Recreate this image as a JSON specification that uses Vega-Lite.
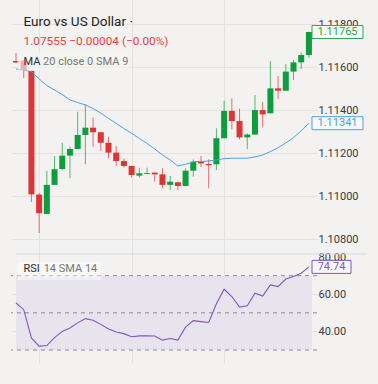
{
  "$schema": "https://vega.github.io/schema/vega-lite/v6.json",
  "width": 378,
  "height": 384,
  "autosize": {"type": "fit", "contains": "padding"},
  "padding": {"left": 10, "top": 0, "right": 10, "bottom": 21},
  "background": "#f3f2f0",
  "config": {
    "view": {"stroke": null},
    "font": "Roboto",
    "axis": {"labelFont": "Roboto", "labelFontSize": 11, "labelColor": "#3a3a3a", "ticks": false, "tickSize": 0, "domain": false, "gridColor": "#e3e2e0", "gridWidth": 1, "title": null}
  },
  "datasets": {
    "candles": [
      {"i": 0, "o": 1.11630, "h": 1.11667, "l": 1.11621, "c": 1.11623, "ma": 1.11593, "rsi": 55.3},
      {"i": 1, "o": 1.11632, "h": 1.11635, "l": 1.11551, "c": 1.11588, "ma": 1.11588, "rsi": 51.7},
      {"i": 2, "o": 1.11584, "h": 1.11586, "l": 1.10974, "c": 1.11010, "ma": 1.11581, "rsi": 36.5},
      {"i": 3, "o": 1.11009, "h": 1.11016, "l": 1.10830, "c": 1.10922, "ma": 1.11547, "rsi": 32.1},
      {"i": 4, "o": 1.10919, "h": 1.11120, "l": 1.10919, "c": 1.11054, "ma": 1.11516, "rsi": 32.4},
      {"i": 5, "o": 1.11054, "h": 1.11188, "l": 1.11054, "c": 1.11127, "ma": 1.11495, "rsi": 36.7},
      {"i": 6, "o": 1.11128, "h": 1.11250, "l": 1.11123, "c": 1.11190, "ma": 1.11474, "rsi": 40.0},
      {"i": 7, "o": 1.11190, "h": 1.11232, "l": 1.11085, "c": 1.11221, "ma": 1.11449, "rsi": 41.8},
      {"i": 8, "o": 1.11221, "h": 1.11394, "l": 1.11221, "c": 1.11286, "ma": 1.11437, "rsi": 44.6},
      {"i": 9, "o": 1.11286, "h": 1.11429, "l": 1.11150, "c": 1.11320, "ma": 1.11426, "rsi": 46.9},
      {"i": 10, "o": 1.11320, "h": 1.11367, "l": 1.11232, "c": 1.11299, "ma": 1.11409, "rsi": 46.0},
      {"i": 11, "o": 1.11299, "h": 1.11300, "l": 1.11212, "c": 1.11250, "ma": 1.11388, "rsi": 43.8},
      {"i": 12, "o": 1.11250, "h": 1.11278, "l": 1.11178, "c": 1.11204, "ma": 1.11363, "rsi": 41.3},
      {"i": 13, "o": 1.11204, "h": 1.11235, "l": 1.11142, "c": 1.11165, "ma": 1.11340, "rsi": 39.7},
      {"i": 14, "o": 1.11165, "h": 1.11176, "l": 1.11134, "c": 1.11142, "ma": 1.11316, "rsi": 38.8},
      {"i": 15, "o": 1.11142, "h": 1.11144, "l": 1.11088, "c": 1.11100, "ma": 1.11294, "rsi": 37.1},
      {"i": 16, "o": 1.11097, "h": 1.11134, "l": 1.11088, "c": 1.11108, "ma": 1.11270, "rsi": 37.6},
      {"i": 17, "o": 1.11105, "h": 1.11134, "l": 1.11104, "c": 1.11109, "ma": 1.11247, "rsi": 37.7},
      {"i": 18, "o": 1.11111, "h": 1.11112, "l": 1.11069, "c": 1.11103, "ma": 1.11221, "rsi": 37.5},
      {"i": 19, "o": 1.11103, "h": 1.11131, "l": 1.11038, "c": 1.11054, "ma": 1.11193, "rsi": 35.3},
      {"i": 20, "o": 1.11054, "h": 1.11095, "l": 1.11030, "c": 1.11069, "ma": 1.11170, "rsi": 36.2},
      {"i": 21, "o": 1.11066, "h": 1.11069, "l": 1.11030, "c": 1.11049, "ma": 1.11142, "rsi": 35.3},
      {"i": 22, "o": 1.11049, "h": 1.11131, "l": 1.11049, "c": 1.11120, "ma": 1.11150, "rsi": 42.3},
      {"i": 23, "o": 1.11120, "h": 1.11173, "l": 1.11092, "c": 1.11162, "ma": 1.11161, "rsi": 45.8},
      {"i": 24, "o": 1.11162, "h": 1.11188, "l": 1.11137, "c": 1.11154, "ma": 1.11163, "rsi": 45.3},
      {"i": 25, "o": 1.11151, "h": 1.11173, "l": 1.11038, "c": 1.11145, "ma": 1.11165, "rsi": 44.8},
      {"i": 26, "o": 1.11150, "h": 1.11317, "l": 1.11123, "c": 1.11271, "ma": 1.11170, "rsi": 54.9},
      {"i": 27, "o": 1.11271, "h": 1.11446, "l": 1.11271, "c": 1.11398, "ma": 1.11176, "rsi": 62.7},
      {"i": 28, "o": 1.11398, "h": 1.11457, "l": 1.11313, "c": 1.11351, "ma": 1.11178, "rsi": 58.8},
      {"i": 29, "o": 1.11351, "h": 1.11408, "l": 1.11266, "c": 1.11275, "ma": 1.11178, "rsi": 53.1},
      {"i": 30, "o": 1.11275, "h": 1.11294, "l": 1.11220, "c": 1.11288, "ma": 1.11178, "rsi": 53.8},
      {"i": 31, "o": 1.11288, "h": 1.11472, "l": 1.11288, "c": 1.11402, "ma": 1.11184, "rsi": 60.6},
      {"i": 32, "o": 1.11402, "h": 1.11440, "l": 1.11322, "c": 1.11382, "ma": 1.11193, "rsi": 59.0},
      {"i": 33, "o": 1.11387, "h": 1.11630, "l": 1.11387, "c": 1.11503, "ma": 1.11209, "rsi": 65.0},
      {"i": 34, "o": 1.11503, "h": 1.11561, "l": 1.11452, "c": 1.11492, "ma": 1.11227, "rsi": 64.1},
      {"i": 35, "o": 1.11492, "h": 1.11616, "l": 1.11492, "c": 1.11581, "ma": 1.11249, "rsi": 68.2},
      {"i": 36, "o": 1.11581, "h": 1.11635, "l": 1.11542, "c": 1.11624, "ma": 1.11274, "rsi": 69.6},
      {"i": 37, "o": 1.11624, "h": 1.11669, "l": 1.11592, "c": 1.11658, "ma": 1.11305, "rsi": 71.3},
      {"i": 38, "o": 1.11658, "h": 1.11767, "l": 1.11646, "c": 1.11765, "ma": 1.11341, "rsi": 74.74}
    ],
    "tags": [
      {"kind": "close", "value": 1.11765},
      {"kind": "ma", "value": 1.11341}
    ],
    "rsitag": [{"value": 74.74}],
    "levels": [{"v": 70}, {"v": 50}, {"v": 30}],
    "one": [{"k": 1}]
  },
  "layer": [
    {
      "layer": [
        {
          "data": {"name": "candles"},
          "mark": {"type": "rule", "strokeWidth": 1, "opacity": 0.7, "clip": true},
          "encoding": {
            "x": {"field": "i", "type": "quantitative", "scale": {"domain": [0, 38.4], "nice": false, "zero": false},
                  "axis": {"values": [3, 15, 27], "labels": false, "grid": true, "orient": "bottom"}},
            "y": {"field": "l", "type": "quantitative",
                  "scale": {"domain": [1.1022558, 1.1191395], "nice": false, "zero": false},
                  "axis": {"orient": "right", "values": [1.108, 1.110, 1.112, 1.114, 1.116, 1.118], "format": ".5f", "labelPadding": 1, "grid": true}},
            "y2": {"field": "h"},
            "color": {"condition": {"test": "datum.c >= datum.o", "value": "#0e9d3e"}, "value": "#dd3536"}
          }
        },
        {
          "data": {"name": "candles"},
          "mark": {"type": "bar", "width": 6, "clip": true},
          "encoding": {
            "x": {"field": "i", "type": "quantitative"},
            "y": {"field": "o", "type": "quantitative"},
            "y2": {"field": "c"},
            "color": {"condition": {"test": "datum.c >= datum.o", "value": "#0e9d3e"}, "value": "#dd3536"}
          }
        },
        {
          "data": {"name": "candles"},
          "mark": {"type": "line", "color": "#4ba1ee", "strokeWidth": 1},
          "encoding": {"x": {"field": "i", "type": "quantitative"}, "y": {"field": "ma", "type": "quantitative"}}
        },
        {
          "data": {"name": "one"},
          "mark": {"type": "rect", "color": "#f3f2f0", "opacity": 0.65},
          "encoding": {
            "x": {"datum": 0.2, "type": "quantitative"}, "x2": {"datum": 14.7},
            "y": {"datum": 1.116721, "type": "quantitative"}, "y2": {"datum": 1.115860}
          }
        },
        {
          "data": {"name": "one"},
          "mark": {"type": "text", "align": "left", "baseline": "middle", "fontSize": 13.5, "color": "#1e1e1e", "text": "Euro vs US Dollar ·"},
          "encoding": {"x": {"datum": 0.976, "type": "quantitative"}, "y": {"datum": 1.118116, "type": "quantitative"}}
        },
        {
          "data": {"name": "one"},
          "mark": {"type": "text", "align": "left", "baseline": "middle", "fontSize": 11.8, "color": "#e0453f", "text": "1.07555  −0.00004 (−0.00%)"},
          "encoding": {"x": {"datum": 0.976, "type": "quantitative"}, "y": {"datum": 1.117233, "type": "quantitative"}}
        },
        {
          "data": {"name": "one"},
          "mark": {"type": "text", "align": "left", "baseline": "middle", "fontSize": 11, "color": "#2e2e2e", "text": "MA"},
          "encoding": {"x": {"datum": 0.976, "type": "quantitative"}, "y": {"datum": 1.116279, "type": "quantitative"}}
        },
        {
          "data": {"name": "one"},
          "mark": {"type": "text", "align": "left", "baseline": "middle", "fontSize": 11, "color": "#767676", "text": "20 close 0 SMA 9"},
          "encoding": {"x": {"datum": 3.51, "type": "quantitative"}, "y": {"datum": 1.116279, "type": "quantitative"}}
        },
        {
          "data": {"name": "tags"},
          "mark": {"type": "rect", "fill": "#f8f8f7", "strokeWidth": 1, "clip": false, "yOffset": -6.5, "y2Offset": 6.5, "x2Offset": 51},
          "encoding": {
            "x": {"datum": 38.4, "type": "quantitative"}, "x2": {"datum": 38.4},
            "y": {"field": "value", "type": "quantitative"}, "y2": {"field": "value"},
            "stroke": {"field": "kind", "type": "nominal", "scale": {"domain": ["close", "ma"], "range": ["#2ea653", "#4ba1ee"]}, "legend": null}
          }
        },
        {
          "data": {"name": "tags"},
          "mark": {"type": "text", "align": "center", "baseline": "middle", "fontSize": 11, "dx": 25.5, "clip": false},
          "encoding": {
            "x": {"datum": 38.4, "type": "quantitative"},
            "y": {"field": "value", "type": "quantitative"},
            "text": {"field": "value", "type": "quantitative", "format": ".5f"},
            "color": {"field": "kind", "type": "nominal", "scale": {"domain": ["close", "ma"], "range": ["#2ea653", "#4ba1ee"]}, "legend": null}
          }
        }
      ]
    },
    {
      "layer": [
        {
          "data": {"name": "one"},
          "mark": {"type": "rect", "color": "#e8e4ee"},
          "encoding": {
            "x": {"datum": 0, "type": "quantitative"}, "x2": {"datum": 38.4},
            "y": {"datum": 30, "type": "quantitative",
                  "scale": {"domain": [23.0, 218.43], "nice": false, "zero": false},
                  "axis": {"orient": "right", "values": [40, 60, 80], "format": ".2f", "labelPadding": 1, "grid": true,
                           "gridOpacity": {"condition": {"test": "datum.value === 80", "value": 0}, "value": 1}}},
            "y2": {"datum": 70}
          }
        },
        {
          "data": {"name": "levels"},
          "mark": {"type": "rule", "color": "#8a8890", "strokeDash": [4, 4], "strokeWidth": 1},
          "encoding": {"y": {"field": "v", "type": "quantitative"}}
        },
        {
          "data": {"name": "candles"},
          "mark": {"type": "line", "color": "#7e57c2", "strokeWidth": 1.1},
          "encoding": {"x": {"field": "i", "type": "quantitative"}, "y": {"field": "rsi", "type": "quantitative"}}
        },
        {
          "data": {"name": "one"},
          "mark": {"type": "rect", "color": "#ffffff", "opacity": 0.45},
          "encoding": {
            "x": {"datum": 0.215, "type": "quantitative"}, "x2": {"datum": 10.99},
            "y": {"datum": 77.38, "type": "quantitative"}, "y2": {"datum": 67.68}
          }
        },
        {
          "data": {"name": "one"},
          "mark": {"type": "text", "align": "left", "baseline": "middle", "fontSize": 11, "color": "#2e2e2e", "text": "RSI"},
          "encoding": {"x": {"datum": 0.976, "type": "quantitative"}, "y": {"datum": 73.45, "type": "quantitative"}}
        },
        {
          "data": {"name": "one"},
          "mark": {"type": "text", "align": "left", "baseline": "middle", "fontSize": 11, "color": "#767676", "text": "14 SMA 14"},
          "encoding": {"x": {"datum": 3.59, "type": "quantitative"}, "y": {"datum": 73.45, "type": "quantitative"}}
        },
        {
          "data": {"name": "one"},
          "mark": {"type": "rule", "color": "#d3d9e3", "strokeWidth": 1, "clip": false, "x2Offset": 55},
          "encoding": {"x": {"datum": 0, "type": "quantitative"}, "x2": {"datum": 38.4}, "y": {"datum": 81.68, "type": "quantitative"}}
        },
        {
          "data": {"name": "rsitag"},
          "mark": {"type": "rect", "fill": "#f8f8f7", "stroke": "#7e57c2", "strokeWidth": 1, "clip": false, "yOffset": -6.5, "y2Offset": 6.5, "x2Offset": 39},
          "encoding": {
            "x": {"datum": 38.4, "type": "quantitative"}, "x2": {"datum": 38.4},
            "y": {"field": "value", "type": "quantitative"}, "y2": {"field": "value"}
          }
        },
        {
          "data": {"name": "rsitag"},
          "mark": {"type": "text", "align": "center", "baseline": "middle", "fontSize": 11, "dx": 19.5, "color": "#7e57c2", "clip": false},
          "encoding": {
            "x": {"datum": 38.4, "type": "quantitative"},
            "y": {"field": "value", "type": "quantitative"},
            "text": {"field": "value", "type": "quantitative", "format": ".2f"}
          }
        }
      ]
    }
  ],
  "resolve": {"scale": {"y": "independent", "stroke": "independent", "color": "independent"}, "axis": {"y": "independent"}}
}
